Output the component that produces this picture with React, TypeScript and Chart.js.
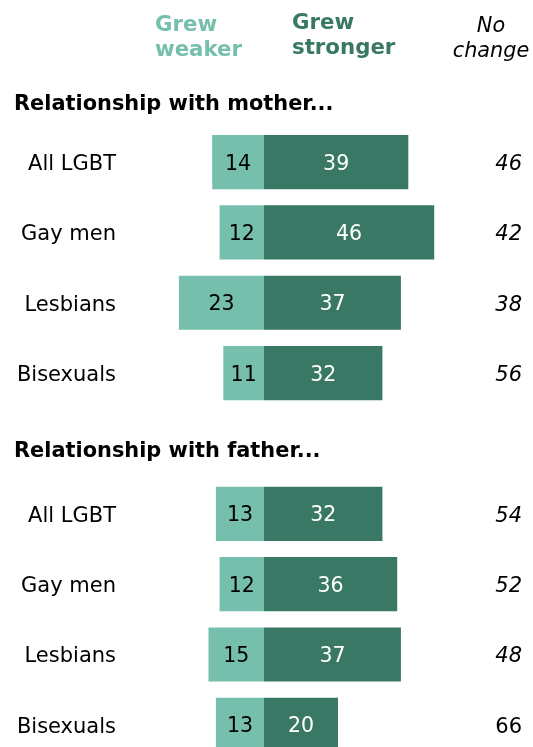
import React, { useEffect, useRef } from "react";
import { Chart, registerables } from "chart.js";

Chart.register(...registerables);

const groups = ["All LGBT", "Gay men", "Lesbians", "Bisexuals"];
const motherWeaker = [14, 12, 23, 11];
const motherStronger = [39, 46, 37, 32];
const motherNoChange = [46, 42, 38, 56];
const fatherWeaker = [13, 12, 15, 13];
const fatherStronger = [32, 36, 37, 20];
const fatherNoChange = [54, 52, 48, 66];
const sectionTitles = ["Relationship with mother...", "Relationship with father..."];

const LIGHT = "#77bfad";
const DARK = "#3a7866";
const FONT = "'DejaVu Sans', Verdana, sans-serif";

export default function App() {
  const ref = useRef<HTMLCanvasElement | null>(null);

  useEffect(() => {
    if (!ref.current) return;
    const labels = [...groups, "", ...groups];
    const weaker = [...motherWeaker.map((v) => -v), null, ...fatherWeaker.map((v) => -v)];
    const stronger = [...motherStronger, null, ...fatherStronger];
    const noChange = [...motherNoChange, null, ...fatherNoChange];
    const weakerAbs = [...motherWeaker, null, ...fatherWeaker];

    const textPlugin = {
      id: "textPlugin",
      afterDatasetsDraw(chart: any) {
        const ctx = chart.ctx as CanvasRenderingContext2D;
        const yScale = chart.scales.y;
        ctx.save();
        // header
        ctx.textAlign = "left";
        ctx.textBaseline = "alphabetic";
        ctx.font = `bold 21.3px ${FONT}`;
        ctx.fillStyle = LIGHT;
        ctx.fillText("Grew", 155, 31);
        ctx.fillText("weaker", 155, 56);
        ctx.fillStyle = DARK;
        ctx.fillText("Grew", 292, 29);
        ctx.fillText("stronger", 292, 54);
        ctx.fillStyle = "#000";
        ctx.font = `italic 20.8px ${FONT}`;
        ctx.textAlign = "center";
        ctx.fillText("No", 491, 32);
        ctx.fillText("change", 491, 57);
        // section titles
        ctx.textAlign = "left";
        ctx.font = `bold 20.9px ${FONT}`;
        ctx.fillText(sectionTitles[0], 14, 109.5);
        ctx.fillText(sectionTitles[1], 14, 457);
        // rows
        labels.forEach((lab, i) => {
          if (!lab) return;
          const y = yScale.getPixelForValue(i);
          ctx.fillStyle = "#000";
          ctx.font = `21px ${FONT}`;
          ctx.textAlign = "right";
          ctx.fillText(lab, 116, y + 7.8);
          const nc = noChange[i];
          const lastRow = i === labels.length - 1;
          ctx.font = `${lastRow ? "" : "italic "}21px ${FONT}`;
          ctx.fillText(String(nc), 522, y + 7.8);
        });
        // bar values
        const m0 = chart.getDatasetMeta(0);
        const m1 = chart.getDatasetMeta(1);
        ctx.textAlign = "center";
        ctx.font = `20.5px ${FONT}`;
        labels.forEach((lab, i) => {
          if (!lab) return;
          const b0: any = m0.data[i];
          const b1: any = m1.data[i];
          ctx.fillStyle = "#000";
          ctx.fillText(String(weakerAbs[i]), (b0.x + b0.base) / 2, b0.y + 7.6);
          ctx.fillStyle = "#fff";
          ctx.fillText(String(stronger[i]), (b1.x + b1.base) / 2, b1.y + 7.6);
        });
        ctx.restore();
      },
    };

    const chart = new Chart(ref.current, {
      type: "bar",
      data: {
        labels,
        datasets: [
          { label: "Grew weaker", data: weaker, backgroundColor: LIGHT, borderWidth: 0 },
          { label: "Grew stronger", data: stronger, backgroundColor: DARK, borderWidth: 0 },
        ],
      },
      options: {
        indexAxis: "y",
        animation: false,
        responsive: false,
        maintainAspectRatio: false,
        layout: { padding: { top: 126.9, left: 0, right: 0, bottom: 0 } },
        datasets: { bar: { barPercentage: 0.77, categoryPercentage: 1 } },
        scales: {
          x: { stacked: true, min: -71.35, max: 72.7, display: false },
          y: { stacked: true, display: false },
        },
        plugins: { legend: { display: false }, tooltip: { enabled: false } },
      },
      plugins: [textPlugin],
    });
    return () => chart.destroy();
  }, []);

  return (
    <div style={{ position: "absolute", left: 0, top: 0, width: 533, height: 760, overflow: "hidden" }}>
      <canvas ref={ref} width={533} height={760} style={{ display: "block", width: 533, height: 760 }} />
    </div>
  );
}
